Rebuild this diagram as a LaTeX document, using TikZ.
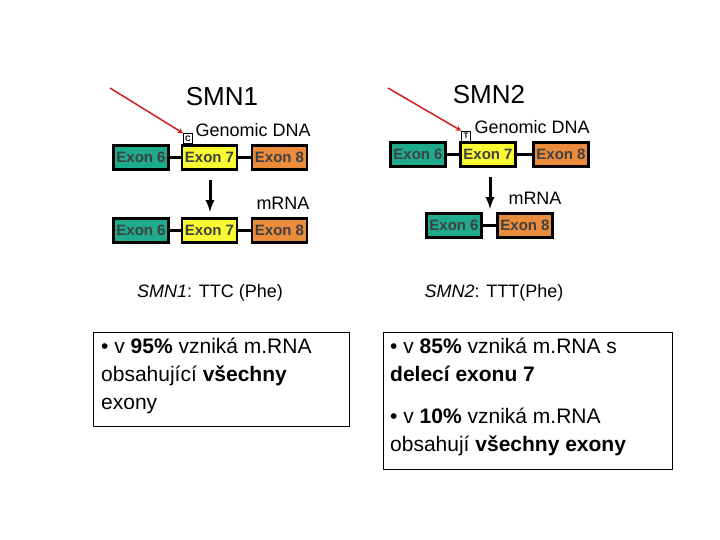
\documentclass[tikz,border=0pt]{standalone}
\usepackage{fontspec}
\setmainfont{Liberation Sans}
\begin{document}
\begin{tikzpicture}[x=1pt,y=-1pt,
 ex/.style={draw=black,line width=2.5pt,inner sep=0pt,minimum width=55pt,minimum height=24pt,font=\bfseries\fontsize{15}{15}\selectfont,text=black!75},
 e6/.style={ex,fill={rgb,255:red,30;green,170;blue,140}},
 e7/.style={ex,fill={rgb,255:red,250;green,250;blue,50}},
 e8/.style={ex,fill={rgb,255:red,235;green,140;blue,60}},
 ln/.style={line width=2.5pt},
 dn/.style={-latex,line width=3pt},
 red/.style={draw={rgb,255:red,210;green,30;blue,30},line width=1.5pt,-stealth},
 lab/.style={font=\fontsize{18}{18}\selectfont},
 ttl/.style={font=\fontsize{26}{26}\selectfont},
 nt/.style={draw,inner sep=1pt,font=\bfseries\fontsize{8}{8}\selectfont,minimum width=9pt,minimum height=10pt},
 txt/.style={font=\fontsize{18}{18}\selectfont},
 bt/.style={font=\fontsize{21}{28}\selectfont,align=left,anchor=north west,inner sep=0pt},
 bx/.style={draw,line width=0.6pt,anchor=north west,minimum width=#1,inner sep=0pt}]
\useasboundingbox (0,0) rectangle (720,540);
% SMN1
\node[ttl] (t1) at (222,97) {SMN1};
\node[e6] (a6) at (141,157.5) {Exon 6};
\node[e7] (a7) at (209.5,157.5) {Exon 7};
\node[e8] (a8) at (279.5,157.5) {Exon 8};
\draw[ln] (a6) -- (a7); \draw[ln] (a7) -- (a8);
\node[nt] (c1) at (188,138.5) {C};
\node[lab,anchor=west] (g1) at (192,130) {Genomic DNA};
\coordinate (r1) at (110,88);
\draw[red] (r1) -- (c1.north west);
\coordinate (d1a) at (210,180); \coordinate (d1b) at (210,212);
\draw[dn] (d1a) -- (d1b);
\node[lab] (m1) at (283,203) {mRNA};
\node[e6] (b6) at (141,230.5) {Exon 6};
\node[e7] (b7) at (209.5,230.5) {Exon 7};
\node[e8] (b8) at (279.5,230.5) {Exon 8};
\draw[ln] (b6) -- (b7); \draw[ln] (b7) -- (b8);
% SMN2
\node[ttl] (t2) at (489,95) {SMN2};
\node[e6] (c6) at (418,154.5) {Exon 6};
\node[e7] (c7) at (488,154.5) {Exon 7};
\node[e8] (c8) at (561,154.5) {Exon 8};
\draw[ln] (c6) -- (c7); \draw[ln] (c7) -- (c8);
\node[nt] (tt) at (466,136) {T};
\node[lab,anchor=west] (g2) at (471,127) {Genomic DNA};
\coordinate (r2) at (388,88);
\draw[red] (r2) -- (tt.north west);
\coordinate (d2a) at (490,177); \coordinate (d2b) at (490,209);
\draw[dn] (d2a) -- (d2b);
\node[lab] (m2) at (535,198) {mRNA};
\node[e6] (d6) at (454,225.5) {Exon 6};
\node[e8] (d8) at (525,225.5) {Exon 8};
\draw[ln] (d6) -- (d8);
% captions
\node[txt] (s1) at (210,293) {\textit{SMN1}: TTC (Phe)};
\node[txt] (s2) at (494,293) {\textit{SMN2}: TTT(Phe)};
\node[bx=256pt,minimum height=94pt] (bl) at (93,332) {};
\node[bt] (blt) at (101,338) {• v \textbf{95\%} vzniká m.RNA\\obsahující \textbf{všechny}\\exony};
\node[bx=289pt,minimum height=137pt] (br) at (383,332) {};
\node[bt] (brt) at (390,338) {• v \textbf{85\%} vzniká m.RNA s\\\textbf{delecí exonu 7}\\[14pt]• v \textbf{10\%} vzniká m.RNA\\obsahují \textbf{všechny exony}};
\end{tikzpicture}
\end{document}
